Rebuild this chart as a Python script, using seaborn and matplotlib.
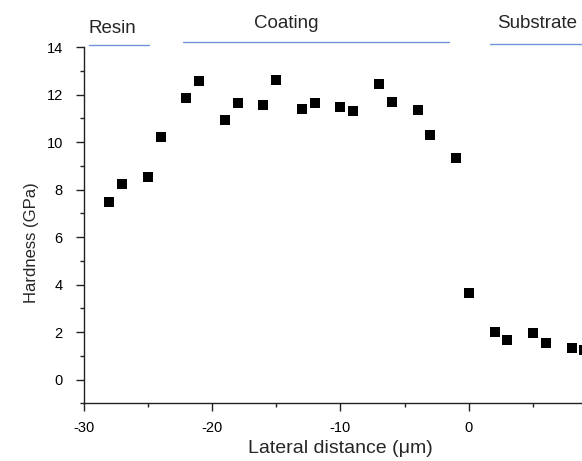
import matplotlib
matplotlib.use("Agg")
import matplotlib.pyplot as plt
import seaborn as sns
import pandas as pd
from matplotlib.ticker import FixedLocator

# Data
lateral_distance = [-28, -27, -25, -24, -22, -21, -19, -18, -16, -15, -13, -12, -10,
                    -9, -7, -6, -4, -3, -1, 0, 2, 3, 5, 6, 8, 9]
hardness = [7.50, 8.25, 8.55, 10.20, 11.88, 12.59, 10.94, 11.64, 11.56, 12.62, 11.40,
            11.67, 11.50, 11.33, 12.44, 11.70, 11.36, 10.31, 9.32, 3.64, 2.02, 1.65,
            1.96, 1.53, 1.34, 1.23]
x_ticks = [-30, -20, -10, 0]
y_ticks = [0, 2, 4, 6, 8, 10, 12, 14]
region_labels = ["Resin", "Coating", "Substrate"]

sns.set_style("ticks")
plt.rcParams["font.family"] = ["Liberation Sans", "DejaVu Sans"]
plt.rcParams["axes.unicode_minus"] = False

df = pd.DataFrame({"x": lateral_distance, "y": hardness})

fig = plt.figure(figsize=(5.82, 4.61), dpi=100)
W, H = 582, 461
left_px, right_px = 83.7, 597.3
top_px, bottom_px = 47.3, 403.3
ax = fig.add_axes([left_px / W, 1 - bottom_px / H, (right_px - left_px) / W,
                   (bottom_px - top_px) / H])

sns.scatterplot(data=df, x="x", y="y", marker="s", s=52, color="black",
                linewidth=0, ax=ax)

ax.set_xlim(-30, 10)
ax.set_ylim(-1, 14)
ax.xaxis.set_major_locator(FixedLocator(x_ticks))
ax.xaxis.set_minor_locator(FixedLocator([-25, -15, -5, 5]))
ax.yaxis.set_major_locator(FixedLocator(y_ticks))
ax.yaxis.set_minor_locator(FixedLocator([-1, 1, 3, 5, 7, 9, 11, 13]))

for side in ["top", "right"]:
    ax.spines[side].set_visible(False)
for side in ["left", "bottom"]:
    ax.spines[side].set_linewidth(1.0)
    ax.spines[side].set_color("#222222")

ax.tick_params(axis="both", which="major", direction="out", length=6, width=1.0,
               labelsize=10.5, colors="#222222", labelcolor="black")
ax.tick_params(axis="y", which="major", pad=9)
ax.tick_params(axis="x", which="major", pad=7)
ax.tick_params(axis="both", which="minor", direction="out", length=3, width=1.0,
               colors="#222222")

ax.set_xlabel("Lateral distance (μm)", fontsize=14, labelpad=3)
ax.set_ylabel("Hardness (GPa)", fontsize=12, labelpad=6)
ax.yaxis.set_label_coords(-0.088, 0.45)

blue = "#6f94d8"
ax.plot([-29.57, -24.9], [14.09, 14.09], color=blue, lw=1.0, clip_on=False)
ax.plot([-22.3, -1.52], [14.23, 14.23], color=blue, lw=1.0, clip_on=False)
ax.plot([1.64, 12], [14.12, 14.12], color=blue, lw=1.0, clip_on=False)

ax.text(-27.75, 14.62, region_labels[0], ha="center", va="baseline", fontsize=13.5)
ax.text(-14.2, 14.80, region_labels[1], ha="center", va="baseline", fontsize=13.5)
ax.text(2.2, 14.83, region_labels[2], ha="left", va="baseline", fontsize=13.5)

fig.savefig("out.png", dpi=100)
